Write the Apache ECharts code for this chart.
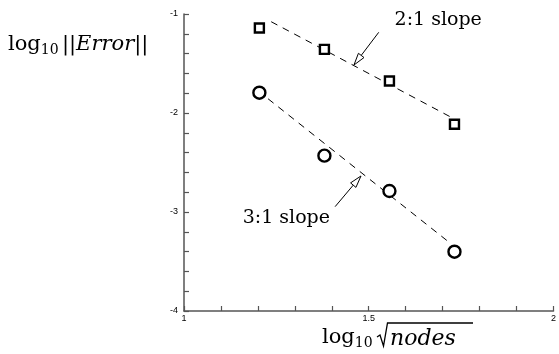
<!DOCTYPE html>
<html><head><meta charset="utf-8">
<script src="https://cdn.jsdelivr.net/npm/echarts@6/dist/echarts.min.js"></script>
<style>html,body{margin:0;padding:0;background:#fff}#c{width:559px;height:354px}</style>
</head><body><div id="c"></div>
<script>
// Convergence data: log10 sqrt(nodes) vs log10 ||Error||
const logSqrtNodes = [1.204, 1.380, 1.556, 1.732];
const errSecondOrder = [-1.141, -1.357, -1.677, -2.114];
const errThirdOrder = [-1.795, -2.431, -2.788, -3.401];

// Reference slope lines (endpoints)
const slope2Line = [[1.236, -1.078], [1.720, -2.037]];
const slope3Line = [[1.200, -1.775], [1.720, -3.313]];

// Annotation arrows and labels (data coordinates)
const arrow2 = { tail: [1.527, -1.185], tip: [1.460, -1.515] };
const arrow3 = { tail: [1.409, -2.946], tip: [1.479, -2.636] };
const label2 = { text: '2:1 slope', at: [1.688, -1.06] };
const label3 = { text: '3:1 slope', at: [1.277, -3.06] };

const xMin = 1, xMax = 2, xStep = 0.5;
const yMin = -4, yMax = -1, yStep = 1;

const chart = echarts.init(document.getElementById('c'), null, { renderer: 'canvas' });

const axisGray = '#555';
const tickFont = { fontFamily: 'Liberation Sans, Arial, sans-serif', fontSize: 9, color: '#000' };

chart.setOption({
  animation: false,
  backgroundColor: '#fff',
  grid: { left: 184, right: 3, top: 14, bottom: 43 },
  xAxis: {
    type: 'value', min: xMin, max: xMax, interval: xStep,
    axisLine: { lineStyle: { color: axisGray, width: 1.5 } },
    axisTick: { inside: true, length: 5, lineStyle: { color: axisGray, width: 1.2 } },
    minorTick: { show: true, splitNumber: 5, length: 5, lineStyle: { color: axisGray, width: 1.2 } },
    splitLine: { show: false },
    axisLabel: Object.assign({ margin: 3, formatter: v => String(v) }, tickFont)
  },
  yAxis: {
    type: 'value', min: yMin, max: yMax, interval: yStep,
    axisLine: { show: true, lineStyle: { color: axisGray, width: 1.5 } },
    axisTick: { show: true, inside: true, length: 5, lineStyle: { color: axisGray, width: 1.2 } },
    minorTick: { show: true, splitNumber: 5, length: 5, lineStyle: { color: axisGray, width: 1.2 } },
    splitLine: { show: false },
    axisLabel: Object.assign({ margin: 6, formatter: v => String(v) }, tickFont)
  },
  series: [
    {
      type: 'line', data: slope2Line, symbol: 'none', z: 1,
      lineStyle: { color: '#000', width: 1, type: [7, 6] }
    },
    {
      type: 'line', data: slope3Line, symbol: 'none', z: 1,
      lineStyle: { color: '#000', width: 1, type: [7, 6] }
    },
    {
      type: 'scatter', z: 3, symbol: 'rect', symbolSize: 9,
      data: logSqrtNodes.map((x, i) => [x, errSecondOrder[i]]),
      itemStyle: { color: '#fff', borderColor: '#000', borderWidth: 2.4, opacity: 1 }
    },
    {
      type: 'scatter', z: 3, symbol: 'circle', symbolSize: 12,
      data: logSqrtNodes.map((x, i) => [x, errThirdOrder[i]]),
      itemStyle: { color: '#fff', borderColor: '#000', borderWidth: 2.4, opacity: 1 }
    }
  ]
});

function px(p) { return chart.convertToPixel({ gridIndex: 0 }, p); }

function arrowGraphics(a) {
  const t = px(a.tail), h = px(a.tip);
  const dx = h[0] - t[0], dy = h[1] - t[1];
  const len = Math.hypot(dx, dy);
  const ux = dx / len, uy = dy / len;
  const headLen = 12, halfW = 3.5;
  const bx = h[0] - ux * headLen, by = h[1] - uy * headLen;
  return [
    { type: 'line', z: 10, shape: { x1: t[0], y1: t[1], x2: bx, y2: by },
      style: { stroke: '#000', lineWidth: 1 } },
    { type: 'polygon', z: 10, shape: { points: [
        [h[0], h[1]], [bx - uy * halfW, by + ux * halfW], [bx + uy * halfW, by - ux * halfW]] },
      style: { fill: '#fff', stroke: '#000', lineWidth: 1 } }
  ];
}

const serif = 'DejaVu Serif, Liberation Serif, serif';

function labelGraphic(l) {
  const p = px(l.at);
  return { type: 'text', z: 10, x: p[0], y: p[1],
    style: { text: l.text, font: '19px ' + serif, fill: '#000', align: 'center', verticalAlign: 'middle' } };
}

const graphics = []
  .concat(arrowGraphics(arrow2), arrowGraphics(arrow3))
  .concat([labelGraphic(label2), labelGraphic(label3)]);

// y-axis title: log10 ||Error||
graphics.push({
  type: 'text', x: 8, y: 45, z: 10,
  style: {
    text: '{n|log}{s|10} {n|||}{i|Error}{n|||}',
    verticalAlign: 'middle',
    rich: {
      n: { font: '21px ' + serif, fill: '#000' },
      s: { font: '14px ' + serif, fill: '#000', verticalAlign: 'bottom', padding: [10, 0, 0, 0] },
      i: { font: 'italic 21px ' + serif, fill: '#000' }
    }
  }
});

// x-axis title: log10 sqrt(nodes), radical drawn as a path
graphics.push({
  type: 'group', x: 0, y: 0, z: 10,
  children: [
    { type: 'text', x: 322, y: 338,
      style: { text: '{n|log}{s|10}', verticalAlign: 'middle',
        rich: {
          n: { font: '21px ' + serif, fill: '#000' },
          s: { font: '14px ' + serif, fill: '#000', verticalAlign: 'bottom', padding: [10, 0, 0, 0] }
        } } },
    { type: 'polyline', shape: { points: [[377, 337], [380, 335], [383.5, 346], [387.5, 323], [473, 323]] },
      style: { stroke: '#000', lineWidth: 1.3, fill: null } },
    { type: 'text', x: 390, y: 339,
      style: { text: 'nodes', font: 'italic 22px ' + serif, fill: '#000', align: 'left', verticalAlign: 'middle' } }
  ]
});

chart.setOption({ graphic: graphics });
</script>
</body></html>
